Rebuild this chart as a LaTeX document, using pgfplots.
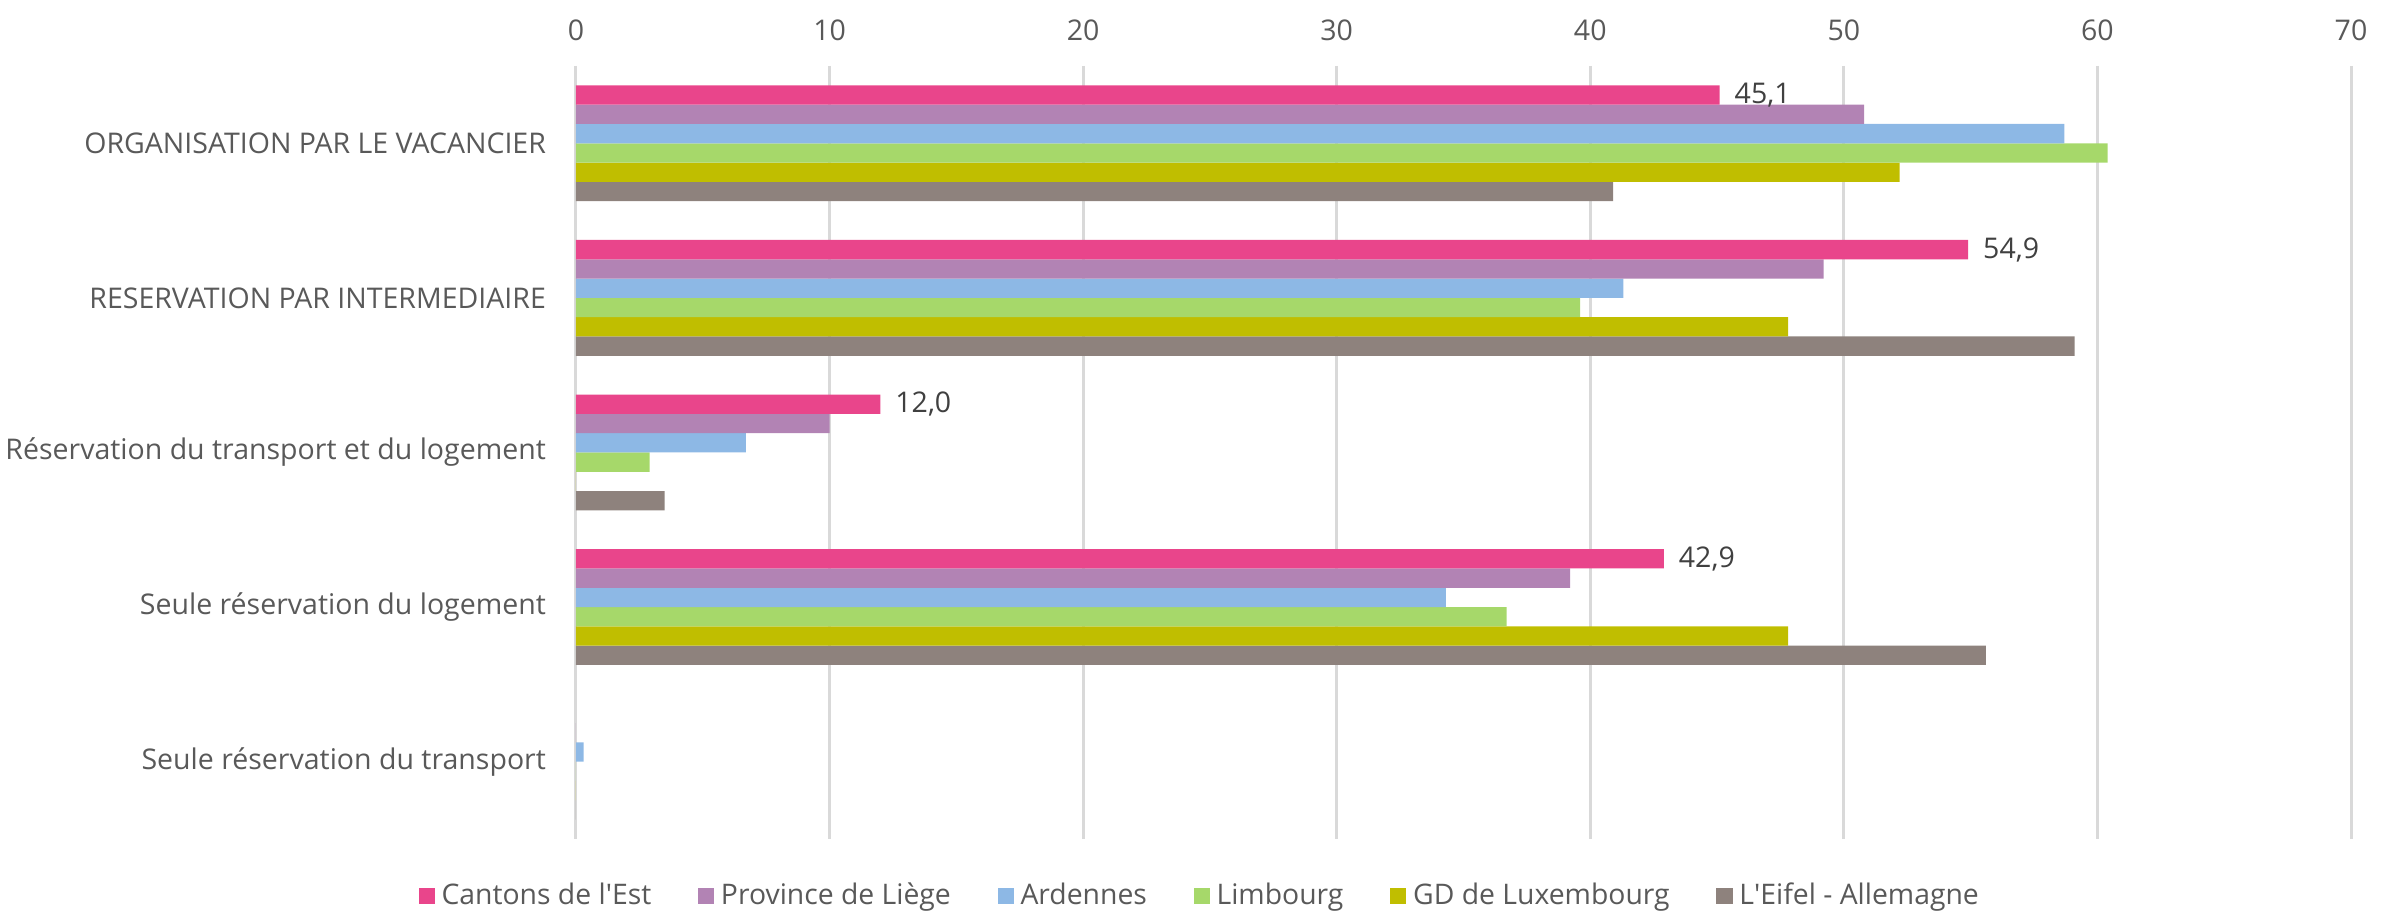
\documentclass[border=0pt]{standalone}
\usepackage{pgfplots}
\pgfplotsset{compat=1.18}
\usepackage{fontspec}
\setmainfont{Open Sans}
\definecolor{cA}{RGB}{233,69,139}
\definecolor{cB}{RGB}{178,131,180}
\definecolor{cC}{RGB}{141,184,229}
\definecolor{cD}{RGB}{166,216,106}
\definecolor{cE}{RGB}{192,190,0}
\definecolor{cF}{RGB}{142,130,125}
\definecolor{txt}{RGB}{89,89,89}
\definecolor{grd}{RGB}{217,217,217}
\begin{document}
\begin{tikzpicture}
\begin{axis}[
  scale only axis,
  width=532.5pt, height=231.9pt,
  xbar=0pt, bar width=5.79pt,
  xmin=0, xmax=70, xtick={0,10,...,70},
  ymin=-0.5, ymax=4.5, y dir=reverse,
  ytick={0,1,2,3,4},
  yticklabels={ORGANISATION PAR LE VACANCIER, RESERVATION PAR INTERMEDIAIRE, Réservation du transport et du logement, Seule réservation du logement, Seule réservation du transport},
  xticklabel pos=upper,
  axis line style={draw=none},
  major tick length=0pt,
  xmajorgrids, grid style={grd, line width=0.9pt},
  /pgf/number format/assume math mode=true,
  tick label style={font=\fontsize{8.55pt}{10pt}\selectfont, text=txt},
  yticklabel style={xshift=-5.5pt},
  xticklabel style={yshift=4pt},
  legend style={draw=none, font=\fontsize{8.5pt}{10pt}\selectfont, text=txt,
    legend columns=6, at={(0.3527,-0.0735)}, anchor=center,
    /tikz/every even column/.append style={column sep=12pt}},
  legend image code/.code={\fill[#1] (0pt,-2.45pt) rectangle (4.9pt,2.45pt);},
  legend cell align=left,
  reverse legend,
]
\addplot[fill=cF, draw=none] coordinates {(40.9,0) (59.1,1) (3.5,2) (55.6,3) (0,4)};
\addplot[fill=cE, draw=none] coordinates {(52.2,0) (47.8,1) (0,2) (47.8,3) (0,4)};
\addplot[fill=cD, draw=none] coordinates {(60.4,0) (39.6,1) (2.9,2) (36.7,3) (0,4)};
\addplot[fill=cC, draw=none] coordinates {(58.7,0) (41.3,1) (6.7,2) (34.3,3) (0.3,4)};
\addplot[fill=cB, draw=none] coordinates {(50.8,0) (49.2,1) (10.0,2) (39.2,3) (0,4)};
\addplot[fill=cA, draw=none, nodes near coords, point meta=explicit,
  nodes near coords style={font=\fontsize{8.55pt}{10pt}\selectfont, text={rgb,255:red,64;green,64;blue,64}, anchor=west, xshift=1pt,
  /pgf/number format/.cd, fixed, fixed zerofill, precision=1, use comma, assume math mode=true}]
  coordinates {(45.1,0) [45.1] (54.9,1) [54.9] (12.0,2) [12.0] (42.9,3) [42.9]};
\legend{L\textquotesingle Eifel - Allemagne, GD de Luxembourg, Limbourg, Ardennes, Province de Liège, Cantons de l\textquotesingle Est}
\end{axis}
\pgfresetboundingbox
\path[use as bounding box] ([xshift=-172.8pt,yshift=-22.2pt]current axis.south west) rectangle ([xshift=13.8pt,yshift=19.8pt]current axis.north east);
\end{tikzpicture}
\end{document}
